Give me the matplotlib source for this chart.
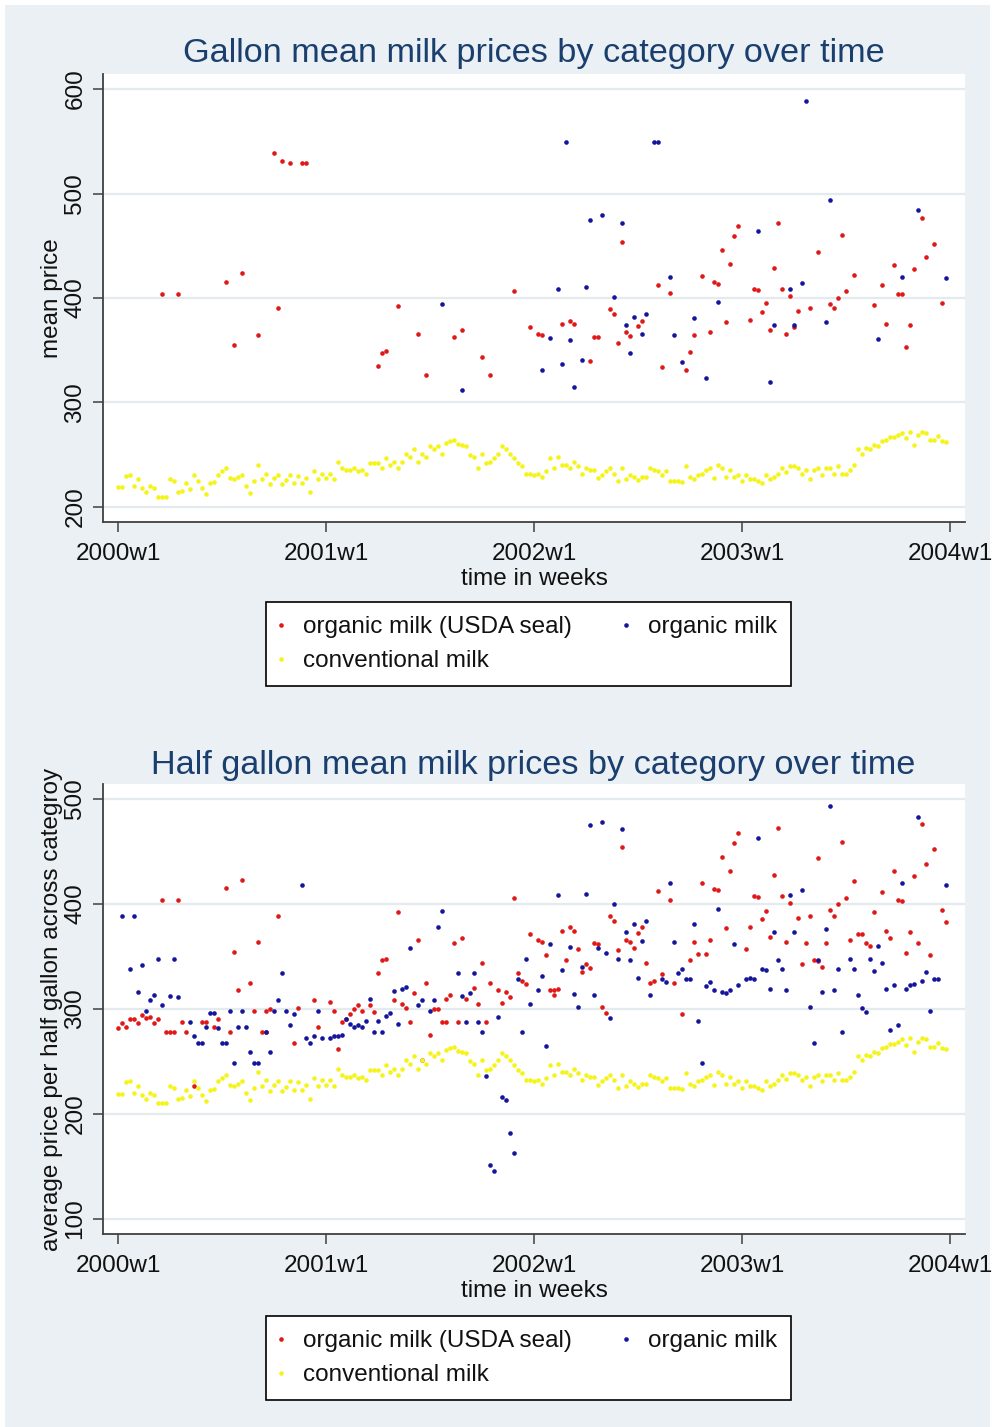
import matplotlib
matplotlib.use("Agg")
import matplotlib.pyplot as plt
from matplotlib.lines import Line2D
from matplotlib.patches import Rectangle

plt.rcParams['font.family'] = ['Liberation Sans', 'DejaVu Sans']

# x axis: weeks counted from 2000w1
week_ticks = [0, 52, 104, 156, 208]
week_labels = ["2000w1", "2001w1", "2002w1", "2003w1", "2004w1"]

# conventional milk, one value per week (same in both panels)
conv_price = [
    219, 219, 230, 231, 220, 227, 218, 214, 220, 218,
    210, 210, 210, 227, 225, 214, 215, 223, 217, 231,
    225, 218, 212, 223, 224, 231, 234, 237, 228, 227,
    229, 231, 220, 213, 225, 240, 227, 232, 222, 228,
    231, 222, 226, 231, 223, 230, 223, 228, 214, 234,
    227, 232, 228, 232, 227, 243, 237, 235, 235, 237,
    234, 235, 232, 242, 242, 242, 237, 247, 240, 243,
    237, 243, 251, 248, 255, 243, 251, 248, 258, 255,
    258, 251, 261, 263, 264, 260, 259, 258, 250, 248,
    237, 251, 242, 243, 247, 251, 258, 255, 251, 247,
    242, 239, 232, 232, 231, 232, 229, 234, 247, 237,
    248, 240, 240, 237, 243, 239, 232, 237, 235, 235,
    228, 231, 234, 237, 232, 225, 237, 227, 231, 229,
    226, 229, 229, 237, 235, 234, 231, 234, 225, 225,
    225, 224, 239, 229, 227, 231, 232, 235, 237, 228,
    240, 237, 229, 235, 229, 231, 225, 231, 227, 227,
    225, 223, 231, 227, 229, 232, 237, 233, 239, 239,
    237, 232, 235, 227, 235, 237, 231, 237, 237, 232,
    239, 232, 232, 235, 240, 255, 251, 256, 255, 259,
    258, 263, 264, 267, 267, 269, 271, 266, 272, 259,
    269, 272, 271, 264, 264, 268, 263, 262,
]

# gallon panel
seal_wk_gal = [11, 15, 27, 29, 31, 35, 39, 40, 41, 43, 46, 47, 65, 66, 67, 70, 75, 77, 84, 86,
               91, 93, 99, 103, 105, 106, 111, 113, 114, 118, 119, 120, 123, 124, 125, 126, 127,
               128, 130, 131, 135, 136, 138, 142, 143, 144, 146, 148, 149, 150, 151, 152, 153,
               154, 155, 158, 159, 160, 161, 162, 163, 164, 165, 166, 167, 168, 169, 170, 173,
               175, 178, 179, 180, 181, 182, 184, 189, 191, 192, 194, 195, 196, 197, 198, 199,
               201, 202, 204, 206]
seal_price_gal = [404, 404, 415, 355, 424, 365, 539, 390, 531, 529, 529, 529, 335, 347, 349, 392,
                  366, 326, 363, 369, 344, 326, 407, 372, 366, 365, 375, 378, 375, 340, 363, 363,
                  389, 385, 357, 454, 367, 364, 373, 378, 412, 334, 405, 331, 348, 365, 421, 367,
                  415, 413, 446, 377, 433, 459, 469, 379, 409, 408, 387, 395, 369, 429, 472, 409,
                  366, 402, 372, 388, 390, 444, 394, 390, 400, 460, 407, 422, 393, 412, 375, 432,
                  404, 404, 353, 374, 428, 477, 439, 452, 395]
org_wk_gal = [81, 86, 106, 108, 110, 111, 112, 113, 114, 116, 117, 118, 121, 124, 126, 127, 128,
              129, 131, 132, 134, 135, 138, 139, 141, 144, 147, 150, 160, 163, 164, 168, 169, 171,
              172, 177, 178, 190, 196, 200, 207]
org_price_gal = [394, 312, 331, 362, 409, 337, 549, 360, 315, 341, 411, 475, 479, 401, 472, 374,
                 347, 382, 366, 385, 549, 549, 420, 365, 339, 381, 323, 396, 464, 320, 374, 409,
                 374, 414, 589, 377, 494, 361, 420, 484, 419]

# half gallon panel
seal_wk_half = [0, 1, 2, 3, 4, 5, 6, 7, 8, 9, 10, 11, 12, 13, 14, 15, 16, 17, 19, 21, 22, 24, 25,
                27, 28, 29, 30, 31, 33, 34, 35, 36, 37, 37, 38, 40, 44, 45, 49, 50, 53, 54, 55, 56,
                57, 58, 59, 60, 61, 63, 64, 65, 66, 67, 69, 70, 71, 72, 73, 74, 75, 76, 77, 78, 79,
                80, 81, 82, 82, 83, 84, 85, 86, 87, 89, 90, 91, 92, 93, 95, 96, 97, 98, 99, 100,
                101, 102, 103, 105, 106, 107, 108, 109, 109, 110, 111, 112, 113, 114, 115, 116, 117,
                118, 119, 120, 121, 122, 123, 124, 125, 126, 127, 128, 129, 130, 131, 132, 133, 134,
                135, 136, 138, 139, 141, 143, 144, 145, 146, 147, 148, 149, 150, 151, 152, 153, 154,
                155, 157, 158, 159, 160, 161, 162, 163, 164, 165, 166, 167, 168, 170, 171, 172, 173,
                174, 175, 175, 176, 177, 178, 179, 180, 181, 182, 183, 184, 185, 186, 187, 188, 189,
                191, 192, 193, 194, 195, 196, 197, 198, 199, 200, 201, 202, 203, 204, 206, 207]
seal_price_half = [282, 287, 283, 290, 290, 287, 294, 291, 292, 287, 290, 404, 278, 278, 278, 404,
                   288, 278, 227, 288, 288, 283, 290, 415, 278, 354, 318, 423, 325, 298, 364, 278,
                   278, 298, 300, 389, 268, 301, 309, 283, 307, 298, 262, 288, 290, 295, 300, 304,
                   298, 304, 297, 334, 347, 348, 309, 392, 305, 301, 288, 315, 366, 251, 325, 275,
                   300, 300, 288, 288, 310, 313, 363, 288, 368, 310, 320, 305, 344, 288, 325, 318,
                   306, 316, 311, 406, 334, 327, 324, 371, 366, 364, 351, 318, 313, 318, 319, 374,
                   347, 378, 374, 357, 335, 343, 339, 363, 362, 302, 296, 389, 384, 356, 454, 366,
                   364, 358, 372, 378, 344, 325, 327, 412, 333, 404, 325, 295, 347, 364, 352, 420,
                   352, 366, 414, 413, 445, 377, 431, 458, 468, 357, 378, 408, 407, 386, 393, 369,
                   428, 472, 408, 364, 401, 387, 343, 363, 389, 347, 346, 444, 340, 363, 394, 389,
                   400, 459, 406, 366, 422, 371, 371, 363, 360, 392, 411, 374, 368, 431, 404, 403,
                   353, 373, 427, 363, 476, 438, 351, 452, 394, 383]
org_wk_half = [1, 3, 4, 5, 6, 7, 8, 9, 10, 11, 13, 14, 15, 18, 19, 20, 21, 22, 23, 24, 25, 26, 27,
               28, 29, 30, 31, 32, 33, 34, 35, 37, 38, 39, 40, 41, 42, 43, 44, 46, 47, 48, 49, 50,
               51, 53, 54, 55, 56, 57, 58, 59, 60, 61, 62, 63, 64, 65, 66, 67, 68, 69, 70, 71, 72,
               73, 75, 76, 78, 79, 80, 81, 85, 86, 87, 88, 89, 90, 91, 92, 93, 94, 95, 96, 97, 98,
               99, 100, 101, 102, 103, 105, 106, 107, 108, 110, 111, 113, 114, 115, 116, 117, 118,
               119, 120, 121, 122, 123, 124, 125, 126, 127, 128, 129, 130, 131, 132, 133, 136, 137,
               138, 139, 140, 141, 142, 143, 144, 145, 146, 147, 148, 149, 150, 151, 152, 153, 154,
               155, 157, 158, 159, 160, 161, 162, 163, 164, 165, 166, 167, 168, 169, 171, 173, 174,
               175, 176, 177, 178, 179, 180, 181, 183, 184, 185, 186, 187, 188, 189, 190, 191, 192,
               193, 194, 195, 196, 197, 198, 199, 200, 201, 202, 203, 204, 205, 207]
org_price_half = [389, 338, 389, 316, 342, 298, 309, 313, 348, 304, 312, 348, 311, 288, 274, 268,
                  268, 283, 296, 296, 282, 268, 268, 298, 249, 283, 298, 283, 259, 249, 249, 278,
                  259, 298, 309, 334, 298, 285, 295, 418, 272, 268, 274, 298, 272, 272, 274, 274,
                  275, 290, 286, 283, 285, 283, 289, 310, 278, 289, 278, 293, 296, 317, 286, 319,
                  321, 358, 304, 309, 298, 309, 378, 393, 334, 312, 288, 315, 334, 288, 278, 236,
                  151, 146, 292, 216, 213, 182, 163, 329, 278, 348, 305, 318, 331, 265, 362, 409,
                  337, 359, 314, 302, 340, 410, 475, 313, 358, 478, 353, 291, 400, 348, 471, 373,
                  347, 381, 330, 365, 384, 313, 329, 326, 420, 364, 334, 338, 329, 329, 381, 289,
                  249, 322, 326, 318, 395, 316, 315, 318, 362, 323, 329, 330, 329, 463, 338, 337,
                  319, 373, 347, 338, 318, 409, 373, 413, 302, 268, 347, 316, 376, 493, 318, 338,
                  278, 348, 338, 313, 301, 297, 348, 336, 360, 344, 319, 280, 323, 285, 420, 319,
                  323, 324, 483, 327, 335, 298, 329, 329, 418]

series_labels = ["organic milk (USDA seal)", "organic milk", "conventional milk"]

BG = "#EAF0F3"
GRID = "#E4EBEF"
AXCOL = "#404040"
TITLECOL = "#1A3F6F"
RED = "#E01818"
BLUE = "#14149C"
YELLOW = "#F4F41C"
FS = 17.5
MS = 3.3


def plot_panel(ax, seal_wk, seal_p, org_wk, org_p, ylabel, ylim, yticks):
    ax.set_facecolor("white")
    ax.plot(seal_wk, seal_p, ls="none", marker="o", ms=MS, mew=0, color=RED)
    ax.plot(org_wk, org_p, ls="none", marker="o", ms=MS, mew=0, color=BLUE)
    ax.plot(range(len(conv_price)), conv_price, ls="none", marker="o", ms=MS, mew=0, color=YELLOW)

    ax.set_xlim(-3.75, 211.75)
    ax.set_ylim(*ylim)
    ax.set_xticks(week_ticks)
    ax.set_xticklabels(week_labels)
    ax.set_yticks(yticks)
    ax.yaxis.grid(True, color=GRID, lw=1.6)
    ax.set_axisbelow(True)

    for s in ["top", "right"]:
        ax.spines[s].set_visible(False)
    for s in ["left", "bottom"]:
        ax.spines[s].set_color(AXCOL)
        ax.spines[s].set_linewidth(1.3)

    ax.tick_params(axis="both", length=7, width=1.1, color=AXCOL, labelsize=FS,
                   labelcolor="#111111")
    ax.tick_params(axis="x", pad=8)
    ax.tick_params(axis="y", pad=5)
    plt.setp(ax.get_yticklabels(), rotation=90, va="center")
    ax.set_xlabel("time in weeks", fontsize=FS, labelpad=2, color="#111111")
    ax.set_ylabel(ylabel, fontsize=FS, labelpad=1, color="#111111")


def add_legend(fig, top_px):
    h_red = Line2D([], [], ls="none", marker="o", ms=MS, mew=0, color=RED)
    h_blue = Line2D([], [], ls="none", marker="o", ms=MS, mew=0, color=BLUE)
    h_yel = Line2D([], [], ls="none", marker="o", ms=MS, mew=0, color=YELLOW)
    # ncol fills column-wise, so this order gives rows: red | blue, then yellow
    leg = fig.legend([h_red, h_yel, h_blue], [series_labels[0], series_labels[2], series_labels[1]],
                     ncol=2, loc="upper left", bbox_to_anchor=(266 / 995, 1 - top_px / 1427),
                     bbox_transform=fig.transFigure, fontsize=FS, frameon=True, fancybox=False,
                     edgecolor="black", framealpha=1, borderpad=0.58, handlelength=0.1,
                     handletextpad=0.86, columnspacing=2.15, labelspacing=0.5, borderaxespad=0)
    leg.get_frame().set_linewidth(1.2)
    for t in leg.get_texts():
        t.set_color("#111111")


fig = plt.figure(figsize=(9.95, 14.27), dpi=100, facecolor="white")
fig.patches.append(Rectangle((5 / 995, 0), 985 / 995, 1 - 5 / 1427, transform=fig.transFigure,
                             facecolor=BG, edgecolor="none", zorder=-10))

ax1 = fig.add_axes([103 / 995, 1 - 522 / 1427, 862 / 995, 448 / 1427])
plot_panel(ax1, seal_wk_gal, seal_price_gal, org_wk_gal, org_price_gal,
           "mean price", (185.6, 614.4), [200, 300, 400, 500, 600])
fig.text(533.5 / 995, 1 - 62 / 1427, "Gallon mean milk prices by category over time",
         ha="center", va="baseline", fontsize=24.7, color=TITLECOL)
add_legend(fig, 602)

ax2 = fig.add_axes([103 / 995, 1 - 1234 / 1427, 862 / 995, 450 / 1427])
plot_panel(ax2, seal_wk_half, seal_price_half, org_wk_half, org_price_half,
           "average price per half gallon across categroy", (85.7, 514.3),
           [100, 200, 300, 400, 500])
fig.text(533 / 995, 1 - 774 / 1427, "Half gallon mean milk prices by category over time",
         ha="center", va="baseline", fontsize=24.7, color=TITLECOL)
add_legend(fig, 1316)

fig.savefig("out.png", dpi=100, facecolor=fig.get_facecolor())
